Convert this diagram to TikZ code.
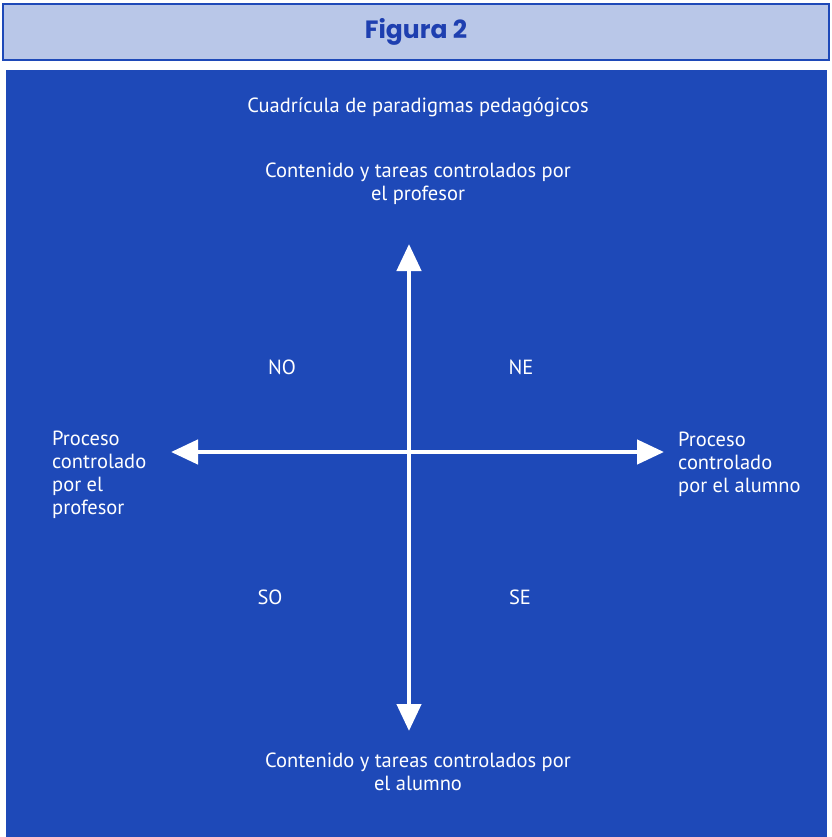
\documentclass[tikz,border=0pt]{standalone}
\usepackage{fontspec}
\setmainfont{PT Sans}
\newfontfamily\headfont{Poppins}
\usetikzlibrary{arrows.meta}
\usetikzlibrary{positioning}

\definecolor{panelblue}{HTML}{1E49B8}
\definecolor{headfill}{HTML}{B9C7E8}
\definecolor{headtext}{HTML}{1E3FB0}

\tikzset{
	label/.style={text=white, font=\fontsize{20.5}{23}\selectfont, inner sep=0pt},
	quad/.style={label},
	axis/.style={draw=white, line width=4.5pt,
		{Triangle[width=24pt,length=27pt]}-{Triangle[width=24pt,length=27pt]}}
}

\begin{document}
\begin{tikzpicture}[x=1pt, y=-1pt]
	\useasboundingbox (0,0) rectangle (831,837);
	% header bar
	\filldraw[fill=headfill, draw=panelblue, line width=1.2pt] (3,4) rectangle (829,60);
	\node[text=headtext, font=\headfont\bfseries\fontsize{25}{28}\selectfont] (head) at (416,32) {Figura 2};
	% blue panel
	\fill[panelblue] (6,70) rectangle (827,837);

	\node[label] (title) at (418,107) {Cuadrícula de paradigmas pedagógicos};
	\node[label, align=center] (top) at (418,184) {Contenido y tareas controlados por\\el profesor};
	\node[label, align=center] (bottom) at (418,772) {Contenido y tareas controlados por\\el alumno};
	\node[label, align=left, anchor=west] (left) at (52,475) {Proceso\\controlado\\por el\\profesor};
	\node[label, align=left, anchor=west] (right) at (678,464) {Proceso\\controlado\\por el alumno};

	\begin{scope}[every node/.style={quad}]
		\node (NO) at (282,367) {NO};
		\node (NE) at (521,367) {NE};
		\node (SO) at (270,597) {SO};
		\node (SE) at (520,597) {SE};
	\end{scope}

	% axes
	\coordinate (n) at (409,244);
	\coordinate (s) at (409,731);
	\coordinate (w) at (171,452);
	\coordinate (e) at (664,452);
	\path[axis] (s) -- (n);
	\path[axis] (w) -- (e);
\end{tikzpicture}
\end{document}
